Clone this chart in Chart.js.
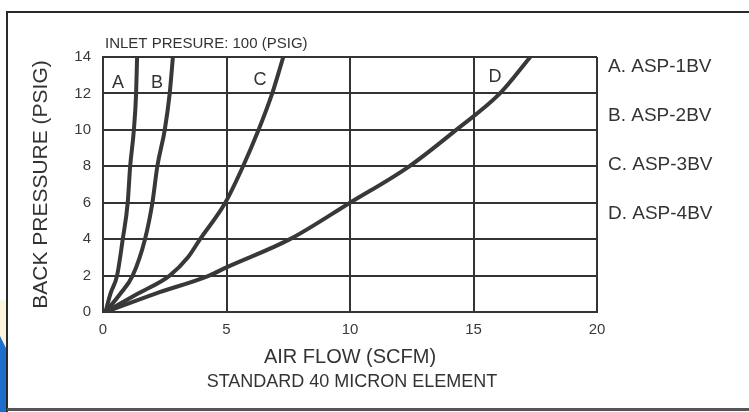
<!DOCTYPE html>
<html>
<head>
<meta charset="utf-8">
<script src="https://cdn.jsdelivr.net/npm/chart.js@4.4.1/dist/chart.umd.min.js"></script>
<style>
html,body{margin:0;padding:0;background:#fff;}
#wrap{width:749px;height:412px;position:relative;}
</style>
</head>
<body>
<div id="wrap"><canvas id="c" width="749" height="412"></canvas></div>
<script>
// ---- data ----
const seriesNames = ["A", "B", "C", "D"];
const legendLabels = ["A. ASP-1BV", "B. ASP-2BV", "C. ASP-3BV", "D. ASP-4BV"];
const flowA = [0.1, 0.3, 0.57, 0.8, 1.0, 1.1, 1.25, 1.34, 1.38];
const presA = [0, 1, 2, 4, 6, 8, 10, 12, 14];
const flowB = [0.1, 0.7, 1.2, 1.7, 2.0, 2.2, 2.5, 2.7, 2.83];
const presB = [0, 1, 2, 4, 6, 8, 10, 12, 14];
const flowC = [0.1, 1.4, 2.7, 3.44, 3.93, 4.95, 5.67, 6.3, 6.85, 7.3];
const presC = [0, 1, 2, 3, 4, 6, 8, 10, 12, 14];
const flowD = [0.1, 2.1, 4.3, 5.0, 7.57, 10.0, 12.4, 14.3, 16.07, 17.3];
const presD = [0, 1, 2, 2.45, 4, 6, 8, 10, 12, 14];
// curve letter label anchors, in data units
const labelFlow = [0.61, 2.19, 6.36, 15.87];
const labelPres = [12.57, 12.57, 12.74, 12.9];
const xTicks = [0, 5, 10, 15, 20];
const yTicks = [0, 2, 4, 6, 8, 10, 12, 14];

const FONT = '"Liberation Sans", Arial, Helvetica, sans-serif';
const INK = '#333333';

function pts(xs, ys){ return xs.map((x,i)=>({x:x, y:ys[i]})); }
const allFlows = [flowA, flowB, flowC, flowD];
const allPres = [presA, presB, presC, presD];

const datasets = seriesNames.map((n,i)=>({
  label: n,
  data: pts(allFlows[i], allPres[i]),
  showLine: true,
  borderColor: '#383838',
  borderWidth: 4,
  pointRadius: 0,
  cubicInterpolationMode: 'monotone',
  fill: false
}));

const decor = {
  id: 'decor',
  beforeDraw(chart){
    const ctx = chart.ctx;
    ctx.save();
    ctx.fillStyle = '#ffffff';
    ctx.fillRect(0,0,chart.width,chart.height);
    // blue corner piece
    ctx.fillStyle = '#fbf6dc';
    ctx.beginPath(); ctx.moveTo(0,300); ctx.lineTo(7,300); ctx.lineTo(7,350); ctx.lineTo(0,336); ctx.closePath(); ctx.fill();
    ctx.fillStyle = '#1e6fcc';
    ctx.beginPath(); ctx.moveTo(0,336); ctx.lineTo(7,350); ctx.lineTo(7,412); ctx.lineTo(0,412); ctx.closePath(); ctx.fill();
    // outer frame
    ctx.strokeStyle = '#2a2a2a';
    ctx.lineWidth = 2;
    ctx.beginPath();
    ctx.moveTo(7,412); ctx.lineTo(7,12); ctx.lineTo(749,12);
    ctx.stroke();
    ctx.strokeStyle = '#555';
    ctx.lineWidth = 3;
    ctx.beginPath(); ctx.moveTo(7,409.5); ctx.lineTo(749,409.5); ctx.stroke();
    ctx.restore();
  },
  afterDraw(chart){
    const ctx = chart.ctx;
    const xs = chart.scales.x, ys = chart.scales.y;
    ctx.save();
    ctx.fillStyle = INK;
    ctx.textBaseline = 'alphabetic';
    // top note
    ctx.font = '15px ' + FONT;
    ctx.textAlign = 'left';
    ctx.fillText('INLET PRESURE: 100 (PSIG)', 105, 48);
    // subtitle under the x title
    ctx.font = '18px ' + FONT;
    ctx.textAlign = 'center';
    ctx.fillText('STANDARD 40 MICRON ELEMENT', 352, 387);
    // curve letters
    ctx.font = '18px ' + FONT;
    ctx.textBaseline = 'middle';
    seriesNames.forEach((n,i)=>{
      ctx.fillText(n, xs.getPixelForValue(labelFlow[i]), ys.getPixelForValue(labelPres[i]));
    });
    // legend
    ctx.font = '19px ' + FONT;
    ctx.textAlign = 'left';
    ctx.textBaseline = 'alphabetic';
    legendLabels.forEach((t,i)=>{
      ctx.fillText(t, 608, 72 + i*49);
    });
    ctx.restore();
  }
};

new Chart(document.getElementById('c'), {
  type: 'scatter',
  data: { datasets },
  options: {
    responsive: false,
    animation: false,
    layout: { padding: { left: 0, right: 152, top: 57, bottom: 0 } },
    plugins: { legend: { display: false }, tooltip: { enabled: false } },
    scales: {
      x: {
        type: 'linear', min: 0, max: 20,
        afterBuildTicks(s){ s.ticks = xTicks.map(v=>({value:v})); },
        afterFit(s){ s.height = 100; },
        ticks: { padding: 9, color: '#3a3a3a', font: { family: FONT, size: 15 }, maxRotation: 0 },
        grid: { color: INK, lineWidth: 2, drawTicks: false },
        border: { display: true, color: INK, width: 2 },
        title: { display: true, text: 'AIR FLOW (SCFM)', color: INK,
                 font: { family: FONT, size: 20 }, padding: { top: 0, bottom: 43 } }
      },
      y: {
        type: 'linear', min: 0, max: 14,
        afterBuildTicks(s){ s.ticks = yTicks.map(v=>({value:v})); },
        afterFit(s){ s.width = 103; },
        ticks: { padding: 12, color: '#3a3a3a', font: { family: FONT, size: 15 } },
        grid: { color: INK, lineWidth: 2, drawTicks: false },
        border: { display: true, color: INK, width: 2 },
        title: { display: true, text: 'BACK PRESSURE (PSIG)', color: INK,
                 font: { family: FONT, size: 21 }, padding: { top: 29, bottom: 0 } }
      }
    }
  },
  plugins: [decor]
});
</script>
</body>
</html>
